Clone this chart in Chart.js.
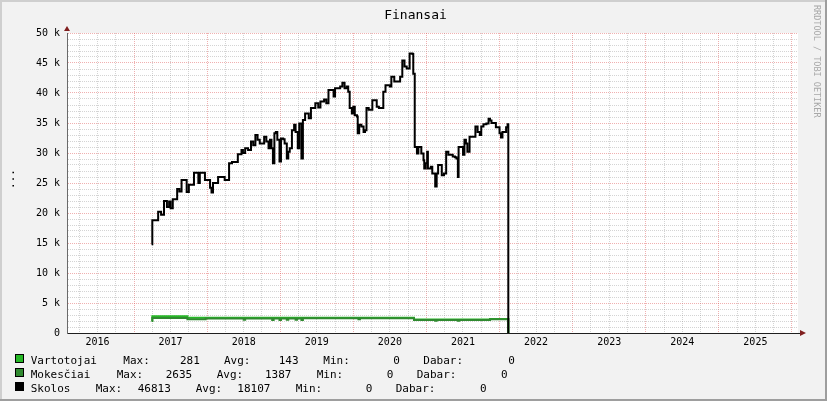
<!DOCTYPE html>
<html>
<head>
<meta charset="utf-8">
<script src="https://cdn.jsdelivr.net/npm/chart.js@4.4.0/dist/chart.umd.min.js"></script>
<style>
    html, body { margin: 0; padding: 0; background: #f2f2f2; }
    canvas { display: block; }
</style>
</head>
<body>
<canvas id="finance-target" width="827" height="401"></canvas>
<script>
// values (x = decimal year)
const skolosYears = [
    2017.24, 2017.25, 2017.33, 2017.37, 2017.41, 2017.45, 2017.48, 2017.50, 2017.53, 2017.59,
    2017.62, 2017.65, 2017.72, 2017.75, 2017.82, 2017.88, 2017.90, 2017.97, 2018.04, 2018.06,
    2018.08, 2018.15, 2018.24, 2018.30, 2018.34, 2018.42, 2018.47, 2018.49, 2018.52, 2018.56,
    2018.60, 2018.63, 2018.66, 2018.69, 2018.72, 2018.78, 2018.81, 2018.84, 2018.86, 2018.88,
    2018.90, 2018.92, 2018.94, 2018.96, 2018.99, 2019.01, 2019.04, 2019.06, 2019.09, 2019.11,
    2019.13, 2019.16, 2019.19, 2019.21, 2019.24, 2019.26, 2019.29, 2019.31, 2019.34, 2019.39,
    2019.42, 2019.48, 2019.52, 2019.55, 2019.60, 2019.63, 2019.66, 2019.73, 2019.75, 2019.82,
    2019.85, 2019.88, 2019.91, 2019.93, 2019.95, 2019.98, 2020.00, 2020.02, 2020.05, 2020.06,
    2020.08, 2020.11, 2020.14, 2020.16, 2020.18, 2020.21, 2020.26, 2020.32, 2020.35, 2020.41,
    2020.44, 2020.50, 2020.52, 2020.56, 2020.61, 2020.64, 2020.67, 2020.70, 2020.73, 2020.77,
    2020.81, 2020.82, 2020.84, 2020.87, 2020.89, 2020.93, 2020.96, 2020.97, 2020.99, 2021.01,
    2021.02, 2021.06, 2021.08, 2021.12, 2021.14, 2021.16, 2021.21, 2021.24, 2021.27, 2021.30,
    2021.36, 2021.39, 2021.41, 2021.43, 2021.44, 2021.47, 2021.50, 2021.52, 2021.54, 2021.56,
    2021.59, 2021.65, 2021.67, 2021.70, 2021.73, 2021.75, 2021.78, 2021.82, 2021.85, 2021.87,
    2021.89, 2021.95, 2022.00, 2022.02, 2022.04, 2022.09, 2022.11, 2022.12
];
const skolosValues = [
    14800, 18800, 20200, 19700, 22000, 21000, 21900, 20800, 22300, 24000,
    23600, 25500, 23500, 24700, 26700, 25000, 26700, 25500, 24200, 23400,
    25000, 26000, 25500, 28300, 28500, 29800, 30500, 30000, 30800, 30500,
    31900, 31300, 33000, 32200, 31600, 32700, 31900, 30800, 32200, 30800,
    28300, 33300, 33500, 32200, 28600, 32400, 32300, 31600, 29100, 30200,
    30800, 33800, 34700, 33500, 30800, 34900, 29100, 35500, 36600, 35800,
    37500, 38300, 37600, 38600, 38900, 38300, 40500, 39400, 40800, 41100,
    41700, 40800, 41100, 40200, 37500, 36600, 37700, 36300, 36100, 33300,
    34700, 34400, 33500, 33800, 37500, 37200, 38800, 37700, 37500, 40200,
    41300, 41100, 42700, 41900, 41900, 42700, 45400, 44400, 44100, 46600,
    46500, 43200, 31000, 29900, 31000, 29900, 28800, 27400, 28300, 30200,
    27400, 27700, 26600, 24400, 26600, 28000, 26300, 26600, 30200, 29700,
    29400, 29300, 29100, 26000, 31000, 31000, 29700, 32200, 31600, 30200,
    32700, 32700, 34400, 33500, 33000, 34400, 34800, 34900, 35700, 35400,
    35000, 34300, 33300, 32600, 33500, 34300, 34800, 0
];
const mokesciaiYears = [
    2017.24, 2017.25, 2017.73, 2017.98, 2018.50, 2018.52, 2018.89, 2018.91, 2018.99, 2019.01,
    2019.09, 2019.11, 2019.21, 2019.23, 2019.29, 2019.31, 2020.07, 2020.09, 2020.83, 2021.12,
    2021.14, 2021.43, 2021.45, 2021.87, 2022.12
];
const mokesciaiValues = [
    2000, 2500, 2300, 2400, 2200, 2400, 2150, 2400, 2150, 2400,
    2200, 2400, 2200, 2400, 2150, 2450, 2300, 2450, 2150, 2050,
    2150, 2050, 2150, 2300, 0
];
const vartotojaiYears = [2017.24, 2017.25, 2017.73, 2020.83, 2021.87, 2022.12];
const vartotojaiValues = [2100, 2800, 2550, 2250, 2350, 0];

const seriesNames = ['Vartotojai', 'Mokesčiai', 'Skolos'];
const seriesColors = ['rgb(38, 184, 38)', 'rgb(48, 138, 48)', 'rgb(0, 0, 0)'];
const maxVals = ['281', '2635', '46813'];
const avgVals = ['143', '1387', '18107'];
const minVals = ['0', '0', '0'];
const lastVals = ['0', '0', '0'];

const xMin = 2016.083;
const xMax = 2026.083;

function points(xs, ys) {
    return xs.map((x, i) => ({ x: x, y: ys[i] }));
}

const MONO = '"DejaVu Sans Mono", "Liberation Mono", monospace';
const MAJOR = 'rgba(222, 80, 80, 0.45)';
const MINOR = 'rgba(143, 143, 143, 0.38)';

// legend column positions (left edge of each text piece) and baselines
const legendCols = [
    [30.7, 123.3, 180, 224, 278.7, 323.3, 393.3, 423.3, 508.3],
    [30.7, 116.7, 165.7, 216.7, 265, 316.7, 386.7, 416.7, 501],
    [30.7, 95.7, 137.7, 195.7, 237.3, 295.7, 365.7, 395.7, 480],
];
const legendBase = [363.5, 377.5, 391.5];

const rrdDecor = {
    id: 'rrdDecor',
    beforeDraw(chart) {
        const ctx = chart.ctx;
        const a = chart.chartArea;
        ctx.save();
        ctx.fillStyle = '#f2f2f2';
        ctx.fillRect(0, 0, chart.width, chart.height);
        ctx.fillStyle = '#cfcfcf';
        ctx.fillRect(0, 0, chart.width, 2);
        ctx.fillRect(0, 0, 2, chart.height);
        ctx.fillStyle = '#9e9e9e';
        ctx.fillRect(0, chart.height - 2, chart.width, 2);
        ctx.fillRect(chart.width - 2, 0, 2, chart.height);
        ctx.fillStyle = '#ffffff';
        ctx.fillRect(a.left, a.top, a.right - a.left, a.bottom - a.top);
        ctx.restore();
    },
    afterDraw(chart) {
        const ctx = chart.ctx;
        const a = chart.chartArea;
        ctx.save();

        // title
        ctx.fillStyle = '#000';
        ctx.font = '13px ' + MONO;
        ctx.textAlign = 'center';
        ctx.textBaseline = 'alphabetic';
        ctx.fillText('Finansai', 415.5, 18.5);

        // axis extension + arrows
        ctx.strokeStyle = '#1f1f1f';
        ctx.lineWidth = 1;
        ctx.beginPath();
        ctx.moveTo(a.right, a.bottom + 0.5);
        ctx.lineTo(a.right + 2, a.bottom + 0.5);
        ctx.stroke();
        ctx.fillStyle = '#801f1f';
        ctx.beginPath();
        ctx.moveTo(a.left, a.top - 7);
        ctx.lineTo(a.left - 3, a.top - 2);
        ctx.lineTo(a.left + 3, a.top - 2);
        ctx.closePath();
        ctx.fill();
        ctx.beginPath();
        ctx.moveTo(a.right + 8, a.bottom);
        ctx.lineTo(a.right + 2, a.bottom - 3);
        ctx.lineTo(a.right + 2, a.bottom + 3);
        ctx.closePath();
        ctx.fill();

        // vertical label
        ctx.fillStyle = '#000';
        ctx.font = '11px ' + MONO;
        ctx.translate(14, 179);
        ctx.rotate(-Math.PI / 2);
        ctx.textAlign = 'center';
        ctx.textBaseline = 'alphabetic';
        ctx.fillText('...', 0, 0);
        ctx.setTransform(1, 0, 0, 1, 0, 0);

        // watermark
        ctx.fillStyle = '#a8a8a8';
        ctx.font = '8.5px ' + MONO;
        ctx.translate(816.5, 5);
        ctx.rotate(Math.PI / 2);
        ctx.textAlign = 'left';
        ctx.textBaseline = 'middle';
        ctx.fillText('RRDTOOL / TOBI OETIKER', 0, 0);
        ctx.setTransform(1, 0, 0, 1, 0, 0);

        // legend
        ctx.font = '11px ' + MONO;
        ctx.textAlign = 'left';
        ctx.textBaseline = 'alphabetic';
        seriesNames.forEach((name, i) => {
            const b = legendBase[i];
            ctx.fillStyle = seriesColors[i];
            ctx.fillRect(15, b - 9.5, 9, 9);
            ctx.strokeStyle = '#000';
            ctx.strokeRect(15.5, b - 9, 8, 8);
            const parts = [name, 'Max:', maxVals[i], 'Avg:', avgVals[i], 'Min:', minVals[i], 'Dabar:', lastVals[i]];
            ctx.fillStyle = '#000';
            parts.forEach((t, j) => ctx.fillText(t, legendCols[i][j], b));
        });
        ctx.restore();
    }
};

window.onload = () => {
    const target = document.getElementById('finance-target');
    const chart = new Chart(target, {
        type: 'line',
        data: {
            datasets: [{
                label: 'Skolos',
                data: points(skolosYears, skolosValues),
                borderColor: seriesColors[2],
            }, {
                label: 'Mokesčiai',
                data: points(mokesciaiYears, mokesciaiValues),
                borderColor: seriesColors[1],
            }, {
                label: 'Vartotojai',
                data: points(vartotojaiYears, vartotojaiValues),
                borderColor: seriesColors[0],
            }],
        },
        options: {
            responsive: false,
            animation: false,
            devicePixelRatio: 1,
            layout: { padding: { left: 0, top: 33, right: 29, bottom: 0 } },
            elements: {
                point: { radius: 0 },
                line: { borderWidth: 2, stepped: 'before', fill: false },
            },
            plugins: {
                legend: { display: false },
                tooltip: { enabled: false },
            },
            scales: {
                x: {
                    type: 'linear',
                    min: xMin,
                    max: xMax,
                    afterBuildTicks: (scale) => {
                        const ticks = [];
                        for (let q = Math.ceil(xMin * 4); q <= Math.floor(xMax * 4); q++) {
                            ticks.push({ value: q / 4 });
                        }
                        scale.ticks = ticks;
                    },
                    afterFit: (scale) => { scale.height = 68; },
                    grid: {
                        drawTicks: false,
                        color: (c) => (c.tick && Number.isInteger(c.tick.value)) ? MAJOR : MINOR,
                    },
                    border: { display: true, color: '#1f1f1f', width: 1, dash: [1, 1] },
                    ticks: {
                        autoSkip: false,
                        maxRotation: 0,
                        padding: 3,
                        color: '#000',
                        font: { family: MONO, size: 10 },
                        callback: (v) => Math.abs(v - Math.floor(v) - 0.5) < 1e-6 ? String(Math.floor(v)) : '',
                    },
                },
                y: {
                    min: 0,
                    max: 50000,
                    afterFit: (scale) => { scale.width = 67; },
                    grid: {
                        drawTicks: false,
                        color: (c) => (c.tick && c.tick.value % 5000 === 0) ? MAJOR : MINOR,
                    },
                    border: { display: true, color: '#6a6a6a', width: 1, dash: [1, 1] },
                    ticks: {
                        stepSize: 1000,
                        autoSkip: false,
                        padding: 7,
                        color: '#000',
                        font: { family: MONO, size: 10 },
                        callback: (v) => v % 5000 !== 0 ? '' : (v === 0 ? '0' : (v / 1000) + ' k'),
                    },
                },
            },
        },
        plugins: [rrdDecor],
    });
};
</script>
</body>
</html>
